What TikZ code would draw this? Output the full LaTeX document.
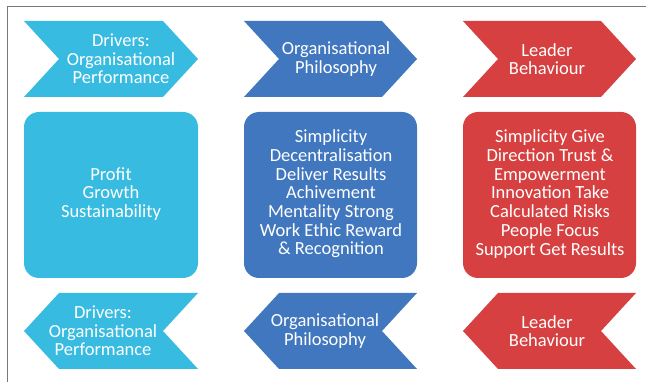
\documentclass[tikz,border=0pt]{standalone}
\usepackage{fontspec}
\setmainfont{Carlito}
\definecolor{cyanc}{RGB}{56,187,224}
\definecolor{bluec}{RGB}{65,119,190}
\definecolor{redc}{RGB}{214,64,64}
\definecolor{framec}{RGB}{120,120,120}
\begin{document}
\begin{tikzpicture}[x=1pt,y=-1pt,
  lbl/.style={text=white,align=center,inner sep=0pt,font=\fontsize{18.5}{18.7}\selectfont},
  box/.style={rounded corners=15pt}]
\useasboundingbox (0,0) rectangle (646,382);
% frame
\draw[framec,line width=1.6pt] (7.5,382) -- (7.5,6.5) -- (646,6.5);
% top chevrons
\fill[cyanc] (24,21) -- (163,21) -- (198,59) -- (163,97) -- (24,97) -- (59,59) -- cycle;
\fill[bluec] (244,21) -- (382,21) -- (417,59) -- (382,97) -- (244,97) -- (279,59) -- cycle;
\fill[redc] (463,21) -- (601,21) -- (636,59) -- (601,97) -- (463,97) -- (498,59) -- cycle;
\node[lbl] (t1) at (121,59) {Drivers:\\Organisational\\Performance};
\node[lbl] (t2) at (336,59) {Organisational\\Philosophy};
\node[lbl] (t3) at (547,59) {Leader\\Behaviour};
% boxes
\fill[cyanc,box] (24,112) rectangle (198,278);
\fill[bluec,box] (244,112) rectangle (417,278);
\fill[redc,box] (463,112) rectangle (636,278);
\node[lbl] (m1) at (111,194) {Profit\\Growth\\Sustainability};
\node[lbl] (m2) at (331,194) {Simplicity\\Decentralisation\\Deliver Results\\Achivement\\Mentality Strong\\Work Ethic Reward\\\& Recognition};
\node[lbl] (m3) at (550,194) {Simplicity Give\\Direction Trust \&\\Empowerment\\Innovation Take\\Calculated Risks\\People Focus\\Support Get Results};
% bottom chevrons
\fill[cyanc] (24,331) -- (59,293) -- (198,293) -- (163,331) -- (198,369) -- (59,369) -- cycle;
\fill[bluec] (244,331) -- (279,293) -- (417,293) -- (382,331) -- (417,369) -- (279,369) -- cycle;
\fill[redc] (463,331) -- (498,293) -- (636,293) -- (601,331) -- (636,369) -- (498,369) -- cycle;
\node[lbl] (b1) at (103,331) {Drivers:\\Organisational\\Performance};
\node[lbl] (b2) at (325,331) {Organisational\\Philosophy};
\node[lbl] (b3) at (547,331) {Leader\\Behaviour};
\end{tikzpicture}
\end{document}
